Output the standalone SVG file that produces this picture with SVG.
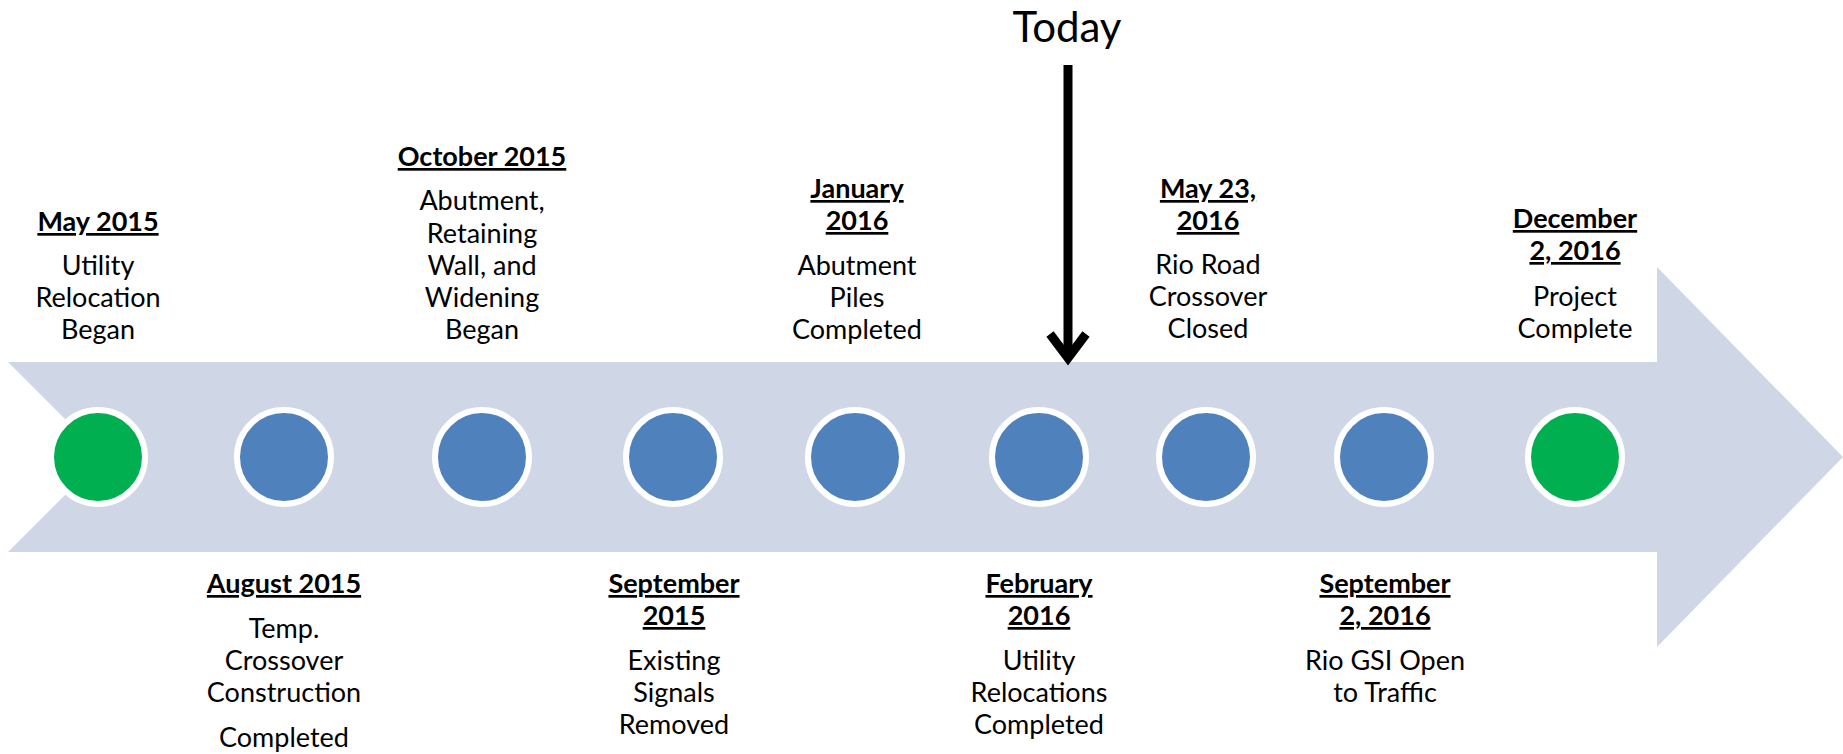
<svg xmlns="http://www.w3.org/2000/svg" width="1843" height="754" viewBox="0 0 1843 754">
<style>
  text { font-family: Lato, "Liberation Sans", sans-serif; fill: #000; text-anchor: middle; }
  .t { font-size: 27px; font-weight: bold; text-decoration: underline; }
  .b { font-size: 27px; }
  .today { font-size: 42px; }
  .dot { stroke: #ffffff; stroke-width: 6; }
  .blue { fill: #4F81BD; }
  .green { fill: #00B050; }
</style>
<rect x="0" y="0" width="1843" height="754" fill="#ffffff"/>
<g id="timeline">
  <polygon points="8,362 1657,362 1657,267 1843,457 1657,647 1657,552 8,552 103,457" fill="#CFD7E6"/>
</g>
<g id="connectors">
  <line x1="1068" y1="65" x2="1068" y2="358" stroke="#000" stroke-width="9"/>
  <polyline points="1050,334 1068,358 1086,334" fill="none" stroke="#000" stroke-width="9" stroke-linejoin="miter"/>
</g>
<g id="today">
  <text class="today" x="1067" y="42">Today</text>
</g>
<g id="m1">
  <circle class="dot green" cx="98" cy="457" r="47"/>
  <text class="t" x="98" y="231">May 2015</text>
  <text class="b" x="98" y="275">Utility</text>
  <text class="b" x="98" y="307">Relocation</text>
  <text class="b" x="98" y="339">Began</text>
</g>
<g id="m2">
  <circle class="dot blue" cx="284" cy="457" r="47"/>
  <text class="t" x="284" y="593">August 2015</text>
  <text class="b" x="284" y="638">Temp.</text>
  <text class="b" x="284" y="670">Crossover</text>
  <text class="b" x="284" y="702">Construction</text>
  <text class="b" x="284" y="747">Completed</text>
</g>
<g id="m3">
  <circle class="dot blue" cx="482" cy="457" r="47"/>
  <text class="t" x="482" y="166">October 2015</text>
  <text class="b" x="482" y="210">Abutment,</text>
  <text class="b" x="482" y="243">Retaining</text>
  <text class="b" x="482" y="275">Wall, and</text>
  <text class="b" x="482" y="307">Widening</text>
  <text class="b" x="482" y="339">Began</text>
</g>
<g id="m4">
  <circle class="dot blue" cx="673" cy="457" r="47"/>
  <text class="t" x="674" y="593">September</text>
  <text class="t" x="674" y="625">2015</text>
  <text class="b" x="674" y="670">Existing</text>
  <text class="b" x="674" y="702">Signals</text>
  <text class="b" x="674" y="734">Removed</text>
</g>
<g id="m5">
  <circle class="dot blue" cx="855" cy="457" r="47"/>
  <text class="t" x="857" y="198">January</text>
  <text class="t" x="857" y="230">2016</text>
  <text class="b" x="857" y="275">Abutment</text>
  <text class="b" x="857" y="307">Piles</text>
  <text class="b" x="857" y="339">Completed</text>
</g>
<g id="m6">
  <circle class="dot blue" cx="1039" cy="457" r="47"/>
  <text class="t" x="1039" y="593">February</text>
  <text class="t" x="1039" y="625">2016</text>
  <text class="b" x="1039" y="670">Utility</text>
  <text class="b" x="1039" y="702">Relocations</text>
  <text class="b" x="1039" y="734">Completed</text>
</g>
<g id="m7">
  <circle class="dot blue" cx="1206" cy="457" r="47"/>
  <text class="t" x="1208" y="198">May 23,</text>
  <text class="t" x="1208" y="230">2016</text>
  <text class="b" x="1208" y="274">Rio Road</text>
  <text class="b" x="1208" y="306">Crossover</text>
  <text class="b" x="1208" y="338">Closed</text>
</g>
<g id="m8">
  <circle class="dot blue" cx="1384" cy="457" r="47"/>
  <text class="t" x="1385" y="593">September</text>
  <text class="t" x="1385" y="625">2, 2016</text>
  <text class="b" x="1385" y="670">Rio GSI Open</text>
  <text class="b" x="1385" y="702">to Traffic</text>
</g>
<g id="m9">
  <circle class="dot green" cx="1575" cy="457" r="47"/>
  <text class="t" x="1575" y="228">December</text>
  <text class="t" x="1575" y="260">2, 2016</text>
  <text class="b" x="1575" y="306">Project</text>
  <text class="b" x="1575" y="338">Complete</text>
</g>
</svg>
